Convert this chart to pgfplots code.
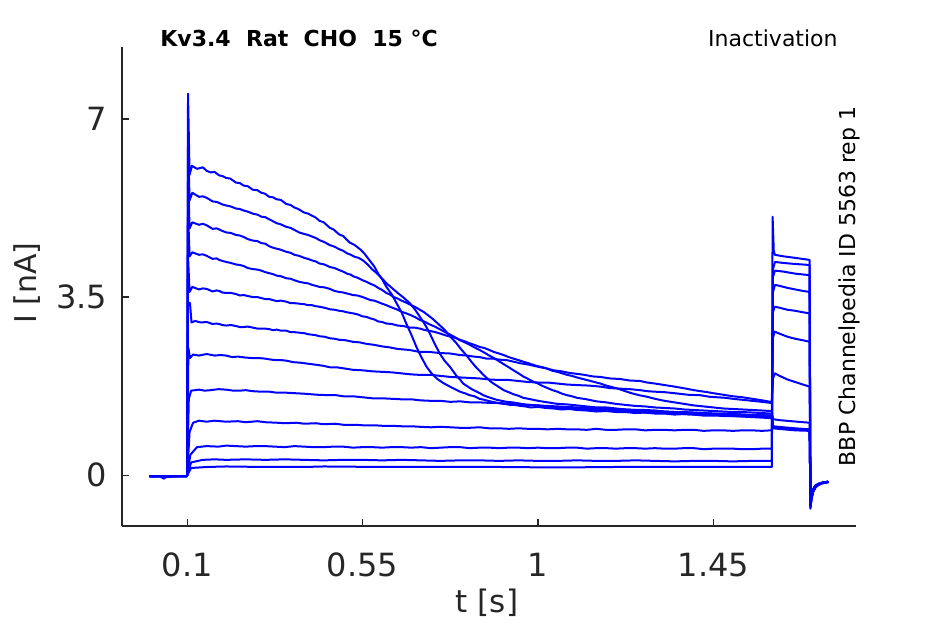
\documentclass[border=0pt]{standalone}
\usepackage{fontspec}
\setmainfont{DejaVu Sans}
\usepackage{pgfplots}
\pgfplotsset{compat=1.18}
\definecolor{trace}{RGB}{0,0,255}
\definecolor{axgray}{RGB}{38,38,38}
\tikzset{tr/.style={color=trace, solid, mark=none, line width=1pt, line join=round}}
\begin{document}
\begin{tikzpicture}
\begin{axis}[
  at={(0,0)}, anchor=south west, scale only axis,
  width=367pt, height=239.5pt,
  xmin=-0.0674, xmax=1.816, ymin=-1.0, ymax=8.415,
  axis x line=bottom, axis y line=left,
  axis line style={-, color=axgray, line width=0.6pt},
  xtick={0.1,0.55,1,1.45}, xticklabels={0.1,0.55,1,1.45},
  ytick={0,3.5,7}, yticklabels={0,3.5,7},
  tick align=inside, major tick length=3.5pt,
  tick style={color=axgray, line width=0.6pt},
  /pgf/number format/assume math mode=true,
  xticklabel style={font=\fontsize{16}{19}\selectfont, color=axgray, anchor=north, inner sep=0pt, yshift=-13.3pt},
  yticklabel style={font=\fontsize{16}{19}\selectfont, color=axgray, anchor=east, inner sep=0pt, xshift=-7.3pt},
  clip=false,
]
% T1
\addplot[tr] coordinates {(0.003,-0.02) (0.015,-0.03) (0.03,-0.02) (0.04,-0.07) (0.045,-0.04) (0.06,-0.03) (0.08,-0.02) (0.099,-0.02)
(0.100,0.0) (0.102,7.5) (0.106,5.9) (0.112,6.08) (0.125,6.02) (0.14,6.05) (0.15,5.98) (0.16,5.95) (0.17,5.96) (0.182,5.89) (0.19,5.88) (0.2,5.84) (0.21,5.83) (0.225,5.75) (0.235,5.74) (0.245,5.69) (0.255,5.68) (0.268,5.61) (0.28,5.6) (0.29,5.55) (0.3,5.53) (0.31,5.47) (0.32,5.46) (0.33,5.42) (0.34,5.41) (0.354,5.33) (0.365,5.31) (0.375,5.26) (0.385,5.23) (0.4,5.16) (0.41,5.14) (0.42,5.10) (0.43,5.06) (0.439,5.00) (0.45,4.97) (0.466,4.86) (0.475,4.83) (0.49,4.73) (0.5,4.7) (0.517,4.57) (0.53,4.52) (0.545,4.43) (0.555,4.35) (0.568,4.22) (0.58,4.1) (0.59,3.96) (0.6,3.85) (0.611,3.70) (0.625,3.55) (0.637,3.38) (0.65,3.2) (0.662,2.98) (0.675,2.76) (0.688,2.52) (0.7,2.33) (0.714,2.13) (0.727,2.0) (0.74,1.90) (0.757,1.81) (0.774,1.74) (0.787,1.69) (0.80,1.64) (0.812,1.61) (0.825,1.57) (0.837,1.55) (0.85,1.50) (0.862,1.48) (0.877,1.45) (0.89,1.43) (0.90,1.41) (0.915,1.40) (0.928,1.38) (0.94,1.38) (0.955,1.36) (0.968,1.35) (0.98,1.33) (1.0,1.34) (1.02,1.32) (1.04,1.31) (1.06,1.29) (1.08,1.3) (1.1,1.28) (1.125,1.27) (1.15,1.25) (1.175,1.26) (1.2,1.24) (1.225,1.24) (1.25,1.22) (1.275,1.23) (1.3,1.21) (1.325,1.21) (1.35,1.19) (1.375,1.2) (1.4,1.19) (1.425,1.17) (1.45,1.17) (1.475,1.18) (1.5,1.16) (1.525,1.16) (1.55,1.15) (1.575,1.15) (1.597,1.14)
(1.600,1.14) (1.603,0.95) (1.62,0.93) (1.65,0.91) (1.68,0.9) (1.697,0.88)
(1.699,-0.5) (1.702,-0.36) (1.706,-0.27) (1.712,-0.2) (1.72,-0.17) (1.73,-0.15) (1.745,-0.13)};
% T2
\addplot[tr] coordinates {(0.003,-0.02) (0.099,-0.02)
(0.100,0) (0.102,6.6) (0.106,5.4) (0.113,5.55) (0.13,5.47) (0.14,5.48) (0.15,5.45) (0.165,5.38) (0.175,5.37) (0.182,5.35) (0.19,5.32) (0.2,5.30) (0.212,5.28) (0.225,5.24) (0.235,5.23) (0.245,5.2) (0.255,5.18) (0.268,5.14) (0.28,5.12) (0.29,5.08) (0.3,5.07) (0.31,5.03) (0.32,4.99) (0.33,4.95) (0.34,4.93) (0.354,4.88) (0.365,4.86) (0.375,4.82) (0.387,4.77) (0.4,4.74) (0.41,4.72) (0.42,4.69) (0.43,4.66) (0.439,4.62) (0.452,4.58) (0.466,4.52) (0.478,4.49) (0.49,4.44) (0.5,4.41) (0.51,4.36) (0.52,4.33) (0.53,4.29) (0.54,4.27) (0.551,4.22) (0.563,4.14) (0.575,4.04) (0.585,3.98) (0.595,3.9) (0.603,3.84) (0.611,3.77) (0.625,3.68) (0.64,3.58) (0.655,3.49) (0.671,3.38) (0.684,3.26) (0.697,3.11) (0.71,2.96) (0.722,2.79) (0.735,2.58) (0.748,2.39) (0.76,2.25) (0.774,2.13) (0.79,1.96) (0.8,1.88) (0.808,1.80) (0.82,1.74) (0.83,1.69) (0.84,1.65) (0.851,1.61) (0.86,1.57) (0.87,1.54) (0.882,1.51) (0.894,1.48) (0.907,1.46) (0.92,1.44) (0.935,1.43) (0.95,1.41) (0.965,1.39) (0.98,1.38) (1.0,1.37) (1.02,1.35) (1.04,1.34) (1.06,1.32) (1.08,1.32) (1.1,1.31) (1.125,1.29) (1.15,1.28) (1.175,1.27) (1.2,1.26) (1.225,1.26) (1.25,1.25) (1.275,1.23) (1.3,1.22) (1.325,1.22) (1.35,1.21) (1.375,1.2) (1.4,1.19) (1.425,1.19) (1.45,1.18) (1.475,1.16) (1.5,1.16) (1.525,1.15) (1.55,1.14) (1.575,1.13) (1.597,1.12)
(1.6,1.12) (1.603,0.92) (1.63,0.9) (1.66,0.88) (1.697,0.87)
(1.699,-0.5) (1.702,-0.37) (1.706,-0.28) (1.712,-0.21) (1.72,-0.17) (1.73,-0.15) (1.745,-0.13)};
% T3
\addplot[tr] coordinates {(0.003,-0.02) (0.099,-0.02)
(0.100,0) (0.102,5.9) (0.106,4.85) (0.113,4.97) (0.13,4.92) (0.14,4.94) (0.15,4.91) (0.165,4.84) (0.175,4.85) (0.182,4.83) (0.19,4.8) (0.2,4.77) (0.212,4.76) (0.225,4.72) (0.235,4.71) (0.245,4.68) (0.255,4.64) (0.268,4.61) (0.28,4.6) (0.29,4.56) (0.3,4.55) (0.31,4.50) (0.32,4.47) (0.33,4.45) (0.34,4.43) (0.354,4.39) (0.365,4.37) (0.375,4.33) (0.387,4.31) (0.4,4.27) (0.41,4.25) (0.42,4.22) (0.43,4.2) (0.439,4.16) (0.452,4.14) (0.466,4.09) (0.478,4.07) (0.49,4.03) (0.5,4.0) (0.51,3.96) (0.52,3.94) (0.525,3.91) (0.537,3.88) (0.55,3.83) (0.56,3.8) (0.57,3.76) (0.58,3.73) (0.59,3.68) (0.6,3.64) (0.611,3.58) (0.62,3.55) (0.63,3.5) (0.64,3.47) (0.65,3.43) (0.662,3.39) (0.675,3.34) (0.686,3.3) (0.697,3.25) (0.708,3.2) (0.72,3.13) (0.73,3.07) (0.74,3.0) (0.75,2.93) (0.76,2.86) (0.77,2.77) (0.78,2.68) (0.79,2.6) (0.80,2.5) (0.81,2.41) (0.82,2.32) (0.83,2.22) (0.84,2.13) (0.85,2.05) (0.86,1.97) (0.87,1.9) (0.88,1.83) (0.89,1.78) (0.9,1.73) (0.912,1.67) (0.925,1.63) (0.937,1.59) (0.95,1.56) (0.962,1.52) (0.975,1.5) (0.988,1.48) (1.0,1.46) (1.025,1.43) (1.05,1.40) (1.075,1.39) (1.1,1.37) (1.125,1.35) (1.15,1.33) (1.175,1.33) (1.2,1.31) (1.225,1.29) (1.25,1.28) (1.275,1.28) (1.3,1.27) (1.325,1.25) (1.35,1.24) (1.375,1.24) (1.4,1.23) (1.425,1.22) (1.45,1.21) (1.475,1.21) (1.5,1.2) (1.525,1.19) (1.55,1.18) (1.575,1.18) (1.597,1.17)
(1.6,1.17) (1.603,0.94) (1.63,0.92) (1.66,0.9) (1.697,0.89)
(1.699,-0.52) (1.702,-0.38) (1.706,-0.28) (1.712,-0.21) (1.72,-0.17) (1.73,-0.15) (1.745,-0.13)};
% T4
\addplot[tr] coordinates {(0.003,-0.02) (0.099,-0.02)
(0.100,0) (0.102,5.2) (0.106,4.3) (0.113,4.38) (0.13,4.33) (0.14,4.34) (0.15,4.31) (0.165,4.25) (0.175,4.26) (0.182,4.23) (0.19,4.21) (0.2,4.19) (0.212,4.17) (0.225,4.14) (0.235,4.13) (0.245,4.11) (0.255,4.07) (0.268,4.05) (0.28,4.04) (0.29,4.02) (0.3,3.99) (0.31,3.97) (0.32,3.95) (0.33,3.92) (0.34,3.91) (0.354,3.87) (0.365,3.86) (0.375,3.83) (0.387,3.8) (0.4,3.78) (0.41,3.77) (0.42,3.74) (0.43,3.72) (0.439,3.70) (0.452,3.69) (0.466,3.66) (0.478,3.62) (0.49,3.6) (0.5,3.59) (0.51,3.57) (0.525,3.54) (0.537,3.53) (0.55,3.5) (0.56,3.47) (0.57,3.44) (0.58,3.43) (0.59,3.40) (0.6,3.37) (0.611,3.34) (0.62,3.31) (0.63,3.28) (0.64,3.25) (0.65,3.21) (0.662,3.18) (0.675,3.14) (0.686,3.1) (0.697,3.05) (0.708,3.02) (0.72,2.97) (0.735,2.92) (0.75,2.86) (0.762,2.81) (0.775,2.76) (0.787,2.71) (0.8,2.65) (0.812,2.61) (0.825,2.56) (0.837,2.51) (0.85,2.46) (0.862,2.41) (0.875,2.35) (0.887,2.3) (0.9,2.24) (0.912,2.18) (0.925,2.12) (0.937,2.06) (0.95,2.0) (0.962,1.94) (0.975,1.89) (0.987,1.84) (1.0,1.8) (1.012,1.75) (1.025,1.71) (1.037,1.67) (1.05,1.64) (1.062,1.6) (1.075,1.57) (1.087,1.55) (1.1,1.52) (1.125,1.49) (1.15,1.45) (1.175,1.43) (1.2,1.40) (1.225,1.38) (1.25,1.36) (1.275,1.35) (1.3,1.33) (1.325,1.32) (1.35,1.31) (1.375,1.29) (1.4,1.28) (1.425,1.27) (1.45,1.26) (1.475,1.25) (1.5,1.24) (1.525,1.24) (1.55,1.23) (1.575,1.22) (1.597,1.21)
(1.6,1.21) (1.603,0.96) (1.63,0.94) (1.66,0.92) (1.697,0.9)
(1.699,-0.53) (1.702,-0.38) (1.706,-0.29) (1.712,-0.21) (1.72,-0.17) (1.73,-0.15) (1.745,-0.13)};
% T5
\addplot[tr] coordinates {(0.003,-0.02) (0.099,-0.02)
(0.100,0) (0.102,4.3) (0.106,3.6) (0.113,3.7) (0.13,3.65) (0.14,3.67) (0.15,3.66) (0.165,3.61) (0.175,3.63) (0.182,3.62) (0.19,3.59) (0.2,3.58) (0.212,3.58) (0.225,3.56) (0.235,3.53) (0.245,3.54) (0.255,3.52) (0.268,3.5) (0.28,3.5) (0.29,3.48) (0.3,3.46) (0.31,3.46) (0.32,3.44) (0.33,3.42) (0.34,3.43) (0.354,3.41) (0.365,3.38) (0.375,3.38) (0.387,3.37) (0.4,3.36) (0.41,3.34) (0.42,3.34) (0.43,3.32) (0.439,3.31) (0.452,3.29) (0.466,3.26) (0.478,3.25) (0.49,3.23) (0.5,3.22) (0.51,3.2) (0.525,3.18) (0.537,3.16) (0.55,3.12) (0.56,3.11) (0.57,3.08) (0.58,3.06) (0.59,3.02) (0.6,3.01) (0.611,2.98) (0.625,2.97) (0.64,2.94) (0.655,2.93) (0.67,2.9) (0.683,2.9) (0.697,2.88) (0.71,2.85) (0.725,2.83) (0.737,2.81) (0.75,2.78) (0.762,2.75) (0.775,2.72) (0.787,2.7) (0.8,2.66) (0.812,2.63) (0.825,2.59) (0.837,2.56) (0.85,2.52) (0.862,2.5) (0.875,2.46) (0.887,2.42) (0.9,2.39) (0.912,2.36) (0.925,2.32) (0.937,2.29) (0.95,2.26) (0.962,2.23) (0.975,2.2) (0.987,2.17) (1.0,2.14) (1.012,2.12) (1.025,2.09) (1.037,2.05) (1.05,2.03) (1.062,2.0) (1.075,1.97) (1.087,1.95) (1.1,1.92) (1.115,1.89) (1.13,1.86) (1.145,1.83) (1.16,1.8) (1.175,1.76) (1.19,1.73) (1.205,1.7) (1.22,1.66) (1.24,1.61) (1.26,1.57) (1.28,1.54) (1.3,1.5) (1.325,1.46) (1.35,1.43) (1.375,1.4) (1.4,1.37) (1.425,1.35) (1.45,1.33) (1.475,1.31) (1.5,1.3) (1.525,1.29) (1.55,1.28) (1.575,1.27) (1.597,1.26)
(1.6,1.26) (1.603,1.1) (1.62,1.08) (1.65,1.06) (1.68,1.04) (1.697,1.03)
(1.699,-0.55) (1.702,-0.4) (1.706,-0.3) (1.712,-0.22) (1.72,-0.18) (1.73,-0.15) (1.745,-0.13)};
% T6
\addplot[tr] coordinates {(0.003,-0.02) (0.099,-0.02)
(0.100,0) (0.102,3.4) (0.107,3.38) (0.111,3.0) (0.12,3.03) (0.135,3.0) (0.15,3.01) (0.165,2.97) (0.175,2.98) (0.182,2.97) (0.19,2.95) (0.2,2.94) (0.212,2.95) (0.225,2.93) (0.235,2.91) (0.245,2.91) (0.255,2.92) (0.268,2.9) (0.28,2.88) (0.29,2.88) (0.3,2.88) (0.31,2.87) (0.32,2.85) (0.33,2.86) (0.34,2.84) (0.354,2.84) (0.365,2.81) (0.375,2.81) (0.387,2.8) (0.4,2.79) (0.41,2.77) (0.42,2.76) (0.43,2.75) (0.439,2.73) (0.452,2.72) (0.466,2.69) (0.478,2.68) (0.49,2.66) (0.507,2.65) (0.525,2.62) (0.542,2.61) (0.56,2.58) (0.58,2.56) (0.6,2.53) (0.62,2.51) (0.64,2.48) (0.67,2.46) (0.697,2.42) (0.722,2.42) (0.748,2.4) (0.775,2.39) (0.8,2.36) (0.818,2.35) (0.835,2.33) (0.85,2.32) (0.868,2.29) (0.885,2.29) (0.9,2.27) (0.92,2.26) (0.937,2.23) (0.954,2.2) (0.977,2.17) (1.0,2.13) (1.02,2.1) (1.04,2.06) (1.06,2.04) (1.08,2.01) (1.1,1.99) (1.12,1.97) (1.14,1.94) (1.16,1.93) (1.185,1.9) (1.21,1.89) (1.235,1.86) (1.262,1.85) (1.28,1.82) (1.3,1.8) (1.325,1.77) (1.35,1.74) (1.365,1.72) (1.38,1.7) (1.4,1.67) (1.417,1.65) (1.435,1.63) (1.45,1.61) (1.475,1.58) (1.5,1.55) (1.525,1.53) (1.55,1.5) (1.575,1.47) (1.597,1.44)
(1.6,1.44) (1.603,1.9) (1.608,2.0) (1.62,1.95) (1.64,1.88) (1.66,1.83) (1.68,1.78) (1.697,1.74)
(1.699,-0.57) (1.702,-0.41) (1.706,-0.3) (1.712,-0.22) (1.72,-0.18) (1.73,-0.15) (1.745,-0.13)};
% T7
\addplot[tr] coordinates {(0.003,-0.02) (0.099,-0.02)
(0.100,0) (0.103,2.5) (0.107,2.3) (0.115,2.37) (0.13,2.35) (0.15,2.38) (0.17,2.35) (0.185,2.36) (0.2,2.35) (0.215,2.32) (0.23,2.33) (0.25,2.31) (0.268,2.3) (0.285,2.3) (0.3,2.29) (0.315,2.27) (0.33,2.26) (0.342,2.26) (0.354,2.25) (0.372,2.22) (0.39,2.21) (0.41,2.19) (0.43,2.17) (0.448,2.15) (0.466,2.12) (0.483,2.12) (0.5,2.1) (0.525,2.07) (0.55,2.06) (0.575,2.04) (0.6,2.03) (0.625,2.02) (0.65,2.0) (0.675,1.98) (0.697,1.97) (0.725,1.97) (0.75,1.95) (0.775,1.93) (0.8,1.92) (0.825,1.91) (0.85,1.9) (0.875,1.88) (0.9,1.87) (0.925,1.87) (0.95,1.85) (0.975,1.83) (1.0,1.82) (1.025,1.82) (1.05,1.8) (1.075,1.78) (1.1,1.77) (1.13,1.76) (1.16,1.74) (1.185,1.71) (1.21,1.7) (1.235,1.69) (1.262,1.67) (1.28,1.65) (1.3,1.64) (1.325,1.63) (1.35,1.61) (1.385,1.58) (1.417,1.57) (1.44,1.54) (1.46,1.53) (1.48,1.52) (1.5,1.5) (1.525,1.48) (1.55,1.46) (1.575,1.44) (1.597,1.42)
(1.6,1.42) (1.603,2.7) (1.607,2.82) (1.62,2.78) (1.64,2.72) (1.66,2.68) (1.68,2.65) (1.697,2.62)
(1.699,-0.58) (1.702,-0.42) (1.706,-0.31) (1.712,-0.23) (1.72,-0.18) (1.73,-0.15) (1.745,-0.13)};
% T8
\addplot[tr] coordinates {(0.003,-0.02) (0.099,-0.02)
(0.100,0) (0.104,1.5) (0.11,1.66) (0.13,1.68) (0.145,1.66) (0.16,1.67) (0.18,1.69) (0.2,1.68) (0.218,1.66) (0.235,1.66) (0.25,1.67) (0.268,1.65) (0.29,1.64) (0.31,1.64) (0.33,1.62) (0.354,1.62) (0.377,1.61) (0.4,1.6) (0.433,1.58) (0.466,1.57) (0.483,1.57) (0.5,1.55) (0.525,1.55) (0.55,1.53) (0.575,1.51) (0.6,1.51) (0.625,1.5) (0.65,1.49) (0.675,1.49) (0.697,1.47) (0.725,1.46) (0.75,1.46) (0.775,1.44) (0.8,1.45) (0.825,1.43) (0.85,1.43) (0.875,1.42) (0.9,1.42) (0.925,1.4) (0.95,1.39) (0.975,1.38) (1.0,1.37) (1.025,1.36) (1.05,1.35) (1.075,1.34) (1.1,1.33) (1.125,1.32) (1.15,1.31) (1.175,1.3) (1.2,1.29) (1.225,1.29) (1.25,1.28) (1.275,1.26) (1.3,1.26) (1.325,1.25) (1.35,1.24) (1.385,1.23) (1.417,1.22) (1.45,1.21) (1.475,1.2) (1.5,1.2) (1.525,1.19) (1.55,1.18) (1.575,1.18) (1.597,1.17)
(1.6,1.17) (1.603,3.2) (1.607,3.31) (1.62,3.29) (1.64,3.25) (1.66,3.23) (1.68,3.2) (1.697,3.18)
(1.699,-0.6) (1.702,-0.43) (1.706,-0.31) (1.712,-0.23) (1.72,-0.18) (1.73,-0.15) (1.745,-0.13)};
% T9
\addplot[tr] coordinates {(0.003,-0.02) (0.099,-0.02)
(0.1,0) (0.106,0.85) (0.115,1.03) (0.13,1.07) (0.15,1.05) (0.17,1.07) (0.2,1.05) (0.23,1.06) (0.25,1.04) (0.28,1.06) (0.3,1.04) (0.33,1.03) (0.35,1.02) (0.38,1.03) (0.4,1.01) (0.43,1.02) (0.45,1.0) (0.48,1.01) (0.5,0.99) (0.53,0.99) (0.55,0.98) (0.58,0.98) (0.6,0.97) (0.625,0.97) (0.65,0.96) (0.675,0.96) (0.697,0.95) (0.725,0.94) (0.75,0.95) (0.775,0.94) (0.8,0.93) (0.825,0.93) (0.85,0.94) (0.875,0.92) (0.9,0.92) (0.925,0.91) (0.95,0.92) (0.975,0.91) (1.0,0.91) (1.025,0.9) (1.05,0.91) (1.075,0.9) (1.1,0.9) (1.125,0.89) (1.15,0.91) (1.175,0.89) (1.2,0.89) (1.225,0.9) (1.25,0.9) (1.275,0.88) (1.3,0.89) (1.325,0.89) (1.35,0.88) (1.375,0.89) (1.4,0.89) (1.425,0.87) (1.45,0.88) (1.475,0.88) (1.5,0.87) (1.525,0.88) (1.55,0.88) (1.575,0.87) (1.597,0.88)
(1.6,0.88) (1.603,3.6) (1.608,3.74) (1.62,3.72) (1.64,3.68) (1.66,3.65) (1.68,3.62) (1.697,3.6)
(1.699,-0.61) (1.702,-0.44) (1.706,-0.32) (1.712,-0.23) (1.72,-0.18) (1.73,-0.15) (1.745,-0.13)};
% T10
\addplot[tr] coordinates {(0.003,-0.02) (0.099,-0.02)
(0.1,0) (0.108,0.4) (0.125,0.55) (0.15,0.57) (0.18,0.56) (0.2,0.58) (0.225,0.57) (0.25,0.56) (0.275,0.57) (0.3,0.57) (0.325,0.56) (0.35,0.55) (0.375,0.57) (0.4,0.56) (0.425,0.55) (0.45,0.55) (0.475,0.56) (0.5,0.56) (0.525,0.54) (0.55,0.55) (0.575,0.55) (0.6,0.54) (0.625,0.55) (0.65,0.55) (0.675,0.54) (0.7,0.55) (0.725,0.53) (0.75,0.54) (0.775,0.55) (0.8,0.55) (0.825,0.53) (0.85,0.54) (0.875,0.54) (0.9,0.53) (0.925,0.54) (0.95,0.54) (0.975,0.53) (1.0,0.54) (1.025,0.53) (1.05,0.53) (1.075,0.54) (1.1,0.54) (1.125,0.52) (1.15,0.53) (1.175,0.53) (1.2,0.52) (1.225,0.53) (1.25,0.53) (1.275,0.52) (1.3,0.53) (1.325,0.52) (1.35,0.52) (1.375,0.53) (1.4,0.53) (1.425,0.51) (1.45,0.52) (1.475,0.52) (1.5,0.52) (1.525,0.51) (1.55,0.51) (1.575,0.52) (1.597,0.52)
(1.6,0.52) (1.603,3.9) (1.608,4.02) (1.63,4.0) (1.66,3.96) (1.697,3.93)
(1.699,-0.62) (1.702,-0.45) (1.706,-0.32) (1.712,-0.24) (1.72,-0.18) (1.73,-0.15) (1.745,-0.13)};
% T11
\addplot[tr] coordinates {(0.003,-0.02) (0.099,-0.02)
(0.1,0) (0.11,0.25) (0.14,0.3) (0.17,0.31) (0.2,0.3) (0.25,0.31) (0.3,0.3) (0.35,0.31) (0.4,0.3) (0.45,0.29) (0.5,0.3) (0.55,0.3) (0.6,0.29) (0.65,0.3) (0.7,0.29) (0.75,0.28) (0.8,0.29) (0.85,0.29) (0.9,0.28) (0.95,0.29) (1.0,0.28) (1.05,0.28) (1.1,0.29) (1.15,0.28) (1.2,0.28) (1.25,0.29) (1.3,0.28) (1.35,0.27) (1.4,0.28) (1.45,0.28) (1.5,0.27) (1.55,0.28) (1.597,0.28)
(1.6,0.28) (1.603,4.05) (1.608,4.19) (1.63,4.17) (1.66,4.15) (1.697,4.13)
(1.699,-0.63) (1.702,-0.45) (1.706,-0.33) (1.712,-0.24) (1.72,-0.19) (1.73,-0.16) (1.745,-0.14)};
% T12
\addplot[tr] coordinates {(0.003,-0.02) (0.099,-0.02)
(0.1,0) (0.11,0.14) (0.15,0.16) (0.2,0.17) (0.3,0.16) (0.4,0.16) (0.45,0.17) (0.6,0.16) (0.75,0.16) (0.9,0.16) (1.05,0.15) (1.2,0.16) (1.4,0.16) (1.597,0.16)
(1.6,0.16) (1.602,5.08) (1.605,4.4) (1.608,4.33) (1.63,4.3) (1.66,4.27) (1.697,4.23)
(1.699,-0.66) (1.702,-0.46) (1.706,-0.33) (1.712,-0.24) (1.72,-0.19) (1.73,-0.16) (1.745,-0.14)};
\end{axis}
\node[anchor=center, rotate=90, inner sep=0pt, color=axgray, font=\fontsize{15}{18}\selectfont] at (-47.25pt,121.5pt) {I [nA]};
\node[anchor=center, inner sep=0pt, color=axgray, font=\fontsize{15.5}{18}\selectfont] at (182.5pt,-38.5pt) {t [s]};
\node[anchor=base west, inner sep=0pt, font=\fontsize{11}{13}\selectfont\bfseries] at (19pt,239.65pt) {Kv3.4\ \ Rat\ \ CHO\ \ 15 °C};
\node[anchor=base east, inner sep=0pt, font=\fontsize{11}{13}\selectfont] at (358pt,239.5pt) {Inactivation};
\node[anchor=center, rotate=90, inner sep=0pt, font=\fontsize{11}{13}\selectfont] at (363.5pt,119.75pt) {BBP Channelpedia ID 5563 rep 1};
\pgfresetboundingbox
\path[use as bounding box] (-61pt,-49pt) rectangle (411.5pt,263pt);
\end{tikzpicture}
\end{document}
